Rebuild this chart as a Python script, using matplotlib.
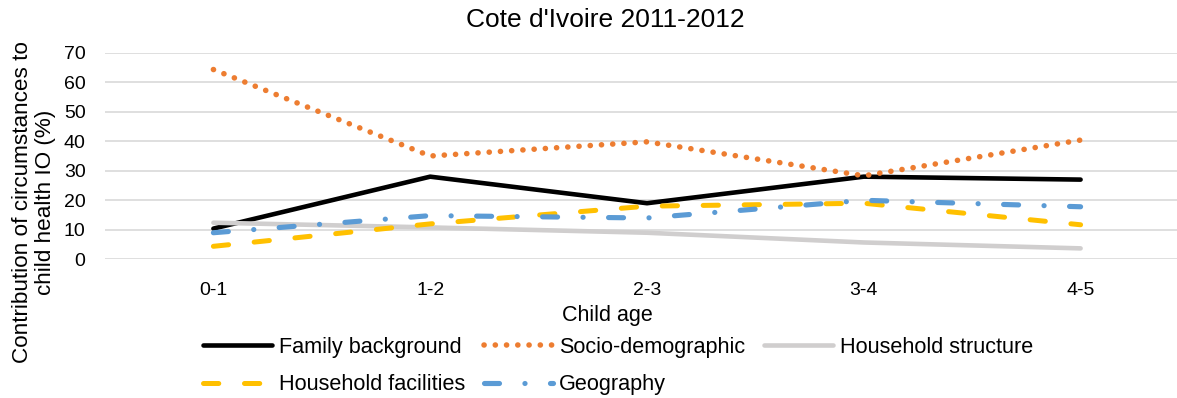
import matplotlib
matplotlib.use("Agg")
import matplotlib.pyplot as plt

plt.rcParams['font.family'] = ['Liberation Sans', 'DejaVu Sans']
plt.rcParams['lines.scale_dashes'] = False

ages = ['0-1', '1-2', '2-3', '3-4', '4-5']
family_background = [10.4, 28.0, 19.0, 28.0, 27.0]
socio_demographic = [64.3, 35.0, 39.8, 28.3, 40.4]
household_structure = [12.4, 10.8, 9.0, 5.7, 3.7]
household_facilities = [4.4, 12.0, 18.0, 19.0, 11.7]
geography = [9.0, 14.8, 14.0, 20.0, 17.8]

fig = plt.figure(figsize=(11.77, 3.98), dpi=100)
ax = fig.add_axes([105 / 1177, 1 - 259.3 / 398, 1084 / 1177, 206.6 / 398])

x = range(len(ages))
l1, = ax.plot(x, family_background, color='black', lw=3.3, solid_capstyle='round',
              label='Family background')
l2, = ax.plot(x, socio_demographic, color='#ED7D31', lw=4.0, dashes=(0.1, 8.0),
              dash_capstyle='round', label='Socio-demographic')
l3, = ax.plot(x, household_structure, color='#D0CECE', lw=3.3, solid_capstyle='round',
              label='Household structure')
l4, = ax.plot(x, household_facilities, color='#FFC000', lw=3.6, dashes=(11, 18.5),
              dash_capstyle='round', label='Household facilities')
l5, = ax.plot(x, geography, color='#5B9BD5', lw=3.7, dashes=(10.8, 18.3, 0.1, 18.3),
              dash_capstyle='round', label='Geography')

ax.set_xlim(-0.5, 4.5)
ax.set_ylim(0, 70)
ax.set_yticks(range(0, 71, 10))
ax.set_xticks(list(x))
ax.set_xticklabels(ages)
ax.grid(axis='y', color='#D9D9D9', lw=1.2)
ax.set_axisbelow(True)
for s in ax.spines.values():
    s.set_visible(False)
ax.tick_params(axis='both', length=0, labelsize=14)
ax.tick_params(axis='y', pad=14)
ax.tick_params(axis='x', pad=16)

fig.text(605 / 1177, 1 - 20 / 398, "Cote d'Ivoire 2011-2012", ha='center', va='center',
         fontsize=19)
fig.text(607 / 1177, 1 - 316 / 398, 'Child age', ha='center', va='center', fontsize=15.5)
fig.text(34 / 1177, 1 - 202 / 398, 'Contribution of circumstances to\nchild health IO (%)',
         rotation=90, ha='center', va='center', fontsize=16.2, linespacing=1.1)

# legend entries reordered so they read row by row like the original
handles = [l1, l4, l2, l5, l3]
fig.legend(handles=handles, loc='center left', bbox_to_anchor=(203 / 1177, 1 - 366 / 398),
           ncol=3, frameon=False, fontsize=15.6, handlelength=3.2, handletextpad=0.3,
           columnspacing=0.85, labelspacing=0.75, borderpad=0, borderaxespad=0)

fig.savefig('out.png', dpi=100)
